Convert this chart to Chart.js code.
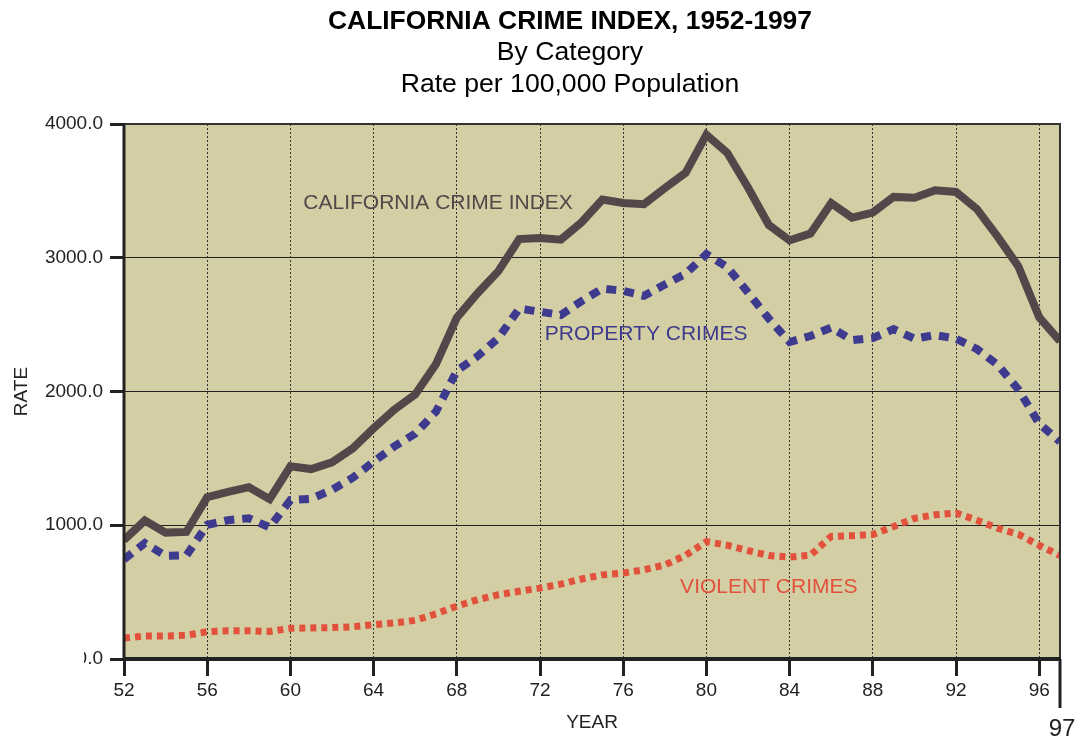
<!DOCTYPE html>
<html lang="en">
<head>
    <meta charset="utf-8">
    <title>California Crime Index, 1952-1997</title>
    <script src="https://cdn.jsdelivr.net/npm/chart.js@4.4.1/dist/chart.umd.min.js"></script>
    <style>
        html, body { margin: 0; padding: 0; background: #fff; }
        #wrap { width: 1080px; height: 738px; }
    </style>
</head>
<body>

<div id="wrap">
    <canvas id="chart" width="1080" height="738"></canvas>
</div>

<script>
// years 1952..1997 (two digit labels as on the original)
var years = [52, 53, 54, 55, 56, 57, 58, 59, 60, 61, 62, 63, 64, 65, 66, 67, 68, 69, 70, 71, 72, 73, 74,
             75, 76, 77, 78, 79, 80, 81, 82, 83, 84, 85, 86, 87, 88, 89, 90, 91, 92, 93, 94, 95, 96, 97];

var crimeIndex = [890, 1035, 945, 950, 1210, 1250, 1285, 1195, 1440, 1420, 1470, 1575, 1725, 1865, 1978, 2205,
                  2552, 2735, 2900, 3140, 3148, 3135, 3265, 3435, 3410, 3400, 3520, 3635, 3920, 3785, 3525, 3245,
                  3130, 3180, 3408, 3300, 3338, 3455, 3448, 3505, 3492, 3365, 3158, 2935, 2555, 2376];

var propertyCrimes = [745, 866, 772, 775, 1003, 1038, 1052, 985, 1188, 1198, 1265, 1355, 1475, 1590, 1685, 1850,
                      2155, 2264, 2400, 2620, 2596, 2572, 2676, 2770, 2752, 2715, 2800, 2880, 3028, 2930, 2740, 2545,
                      2370, 2415, 2478, 2384, 2400, 2466, 2395, 2422, 2395, 2318, 2200, 2015, 1760, 1625];

var violentCrimes = [157, 172, 172, 177, 204, 211, 211, 206, 229, 232, 235, 241, 256, 270, 289, 338,
                     395, 444, 480, 507, 530, 560, 598, 629, 643, 667, 703, 775, 877, 851, 811, 774,
                     762, 775, 917, 922, 931, 990, 1052, 1078, 1092, 1038, 978, 932, 850, 773];

var yearTicks = [52, 56, 60, 64, 68, 72, 76, 80, 84, 88, 92, 96, 97];
var rateTicks = [0, 1000, 2000, 3000, 4000];

var titleText = 'CALIFORNIA CRIME INDEX, 1952-1997';
var subtitleLines = ['By Category', 'Rate per 100,000 Population'];

var FONT = 'Liberation Sans, Arial, Helvetica, sans-serif';
var INK = '#222222';
var PLOT_BG = '#d3cea4';
var COL_INDEX = '#55464a';
var COL_PROPERTY = '#3e3b8e';
var COL_VIOLENT = '#e2513b';

// line labels sit inside the plot, placed in data units
var seriesLabels = [
    { text: 'CALIFORNIA CRIME INDEX', year: 67.1, rate: 3410, color: COL_INDEX },
    { text: 'PROPERTY CRIMES', year: 77.1, rate: 2425, color: COL_PROPERTY },
    { text: 'VIOLENT CRIMES', year: 83.0, rate: 540, color: COL_VIOLENT }
];

function toPoints(values) {
    var pts = [];
    for (var i = 0; i < years.length; i++) {
        pts.push({ x: years[i], y: values[i] });
    }
    return pts;
}

var decorPlugin = {
    id: 'decor',
    beforeDraw: function(chart) {
        var a = chart.chartArea;
        var ctx = chart.ctx;
        ctx.save();
        ctx.fillStyle = PLOT_BG;
        ctx.fillRect(a.left, a.top, a.right - a.left, a.bottom - a.top);
        ctx.restore();
    },
    afterDatasetsDraw: function(chart) {
        var a = chart.chartArea;
        var ctx = chart.ctx;
        var xs = chart.scales.x;
        var ys = chart.scales.y;
        ctx.save();

        // frame
        ctx.strokeStyle = '#333333';
        ctx.lineWidth = 2;
        ctx.beginPath();
        ctx.moveTo(a.left, a.top);
        ctx.lineTo(a.right, a.top);
        ctx.lineTo(a.right, a.bottom);
        ctx.stroke();

        ctx.strokeStyle = INK;
        ctx.lineWidth = 3;
        ctx.beginPath();
        ctx.moveTo(a.left, a.top - 1);
        ctx.lineTo(a.left, a.bottom);
        ctx.stroke();
        ctx.lineWidth = 4;
        ctx.beginPath();
        ctx.moveTo(a.left - 1, a.bottom);
        ctx.lineTo(a.right + 1, a.bottom);
        ctx.stroke();

        // long tick and label for the last year
        var x97 = xs.getPixelForValue(97);
        ctx.lineWidth = 3;
        ctx.beginPath();
        ctx.moveTo(x97, a.bottom);
        ctx.lineTo(x97, a.bottom + 49);
        ctx.stroke();
        ctx.fillStyle = INK;
        ctx.font = '24px ' + FONT;
        ctx.textAlign = 'center';
        ctx.textBaseline = 'middle';
        ctx.fillText('97', x97 + 2, a.bottom + 70);

        // series labels
        ctx.font = '21px ' + FONT;
        seriesLabels.forEach(function(l) {
            ctx.fillStyle = l.color;
            ctx.fillText(l.text, xs.getPixelForValue(l.year), ys.getPixelForValue(l.rate));
        });

        // titles
        ctx.fillStyle = '#000000';
        ctx.textBaseline = 'alphabetic';
        ctx.font = 'bold 26.4px ' + FONT;
        ctx.fillText(titleText, 570, 29);
        ctx.font = '26.6px ' + FONT;
        ctx.fillText(subtitleLines[0], 570, 60);
        ctx.fillText(subtitleLines[1], 570, 92);
        ctx.restore();
    },
    afterDraw: function(chart) {
        // the zero label is cut off on the original
        var ctx = chart.ctx;
        ctx.save();
        ctx.fillStyle = '#ffffff';
        ctx.fillRect(40, chart.chartArea.bottom - 14, 44, 28);
        ctx.restore();
    }
};

var ctx = document.getElementById('chart').getContext('2d');
var myChart = new Chart(ctx, {
    type: 'line',
    data: {
        datasets: [
            {
                label: 'VIOLENT CRIMES',
                data: toPoints(violentCrimes),
                borderColor: COL_VIOLENT,
                borderWidth: 7,
                borderDash: [6, 5],
                borderCapStyle: 'butt',
                pointRadius: 0,
                tension: 0,
                fill: false
            },
            {
                label: 'PROPERTY CRIMES',
                data: toPoints(propertyCrimes),
                borderColor: COL_PROPERTY,
                borderWidth: 8,
                borderDash: [10, 8],
                borderCapStyle: 'butt',
                pointRadius: 0,
                tension: 0,
                fill: false
            },
            {
                label: 'CALIFORNIA CRIME INDEX',
                data: toPoints(crimeIndex),
                borderColor: COL_INDEX,
                borderWidth: 8,
                borderJoinStyle: 'miter',
                pointRadius: 0,
                tension: 0,
                fill: false
            }
        ]
    },
    options: {
        responsive: false,
        animation: false,
        events: [],
        layout: { padding: { top: 124, right: 20, left: 0, bottom: 0 } },
        plugins: {
            legend: { display: false },
            tooltip: { enabled: false },
            title: { display: false }
        },
        scales: {
            x: {
                type: 'linear',
                min: 52,
                max: 97,
                afterBuildTicks: function(scale) {
                    scale.ticks = yearTicks.map(function(v) { return { value: v }; });
                },
                afterFit: function(scale) { scale.height = 79; },
                grid: {
                    color: function(c) {
                        if (!c.tick) return 'transparent';
                        return (c.tick.value === 52 || c.tick.value === 97) ? 'transparent' : '#333333';
                    },
                    lineWidth: 1,
                    drawTicks: true,
                    tickLength: 17,
                    tickWidth: 3,
                    tickColor: function(c) {
                        return (c.tick && c.tick.value === 97) ? 'transparent' : INK;
                    }
                },
                border: { display: false, dash: [2, 2] },
                ticks: {
                    autoSkip: false,
                    maxRotation: 0,
                    padding: 3,
                    color: INK,
                    font: { family: FONT, size: 19 },
                    callback: function(v) { return v === 97 ? '' : String(v); }
                },
                title: {
                    display: true,
                    text: 'YEAR',
                    color: INK,
                    font: { family: FONT, size: 19 },
                    padding: { top: 8, bottom: 4 }
                }
            },
            y: {
                min: 0,
                max: 4000,
                afterBuildTicks: function(scale) {
                    scale.ticks = rateTicks.map(function(v) { return { value: v }; });
                },
                afterFit: function(scale) { scale.width = 124; },
                grid: {
                    color: function(c) {
                        return (c.tick && (c.tick.value === 0 || c.tick.value === 4000)) ? 'transparent' : INK;
                    },
                    lineWidth: 1,
                    drawTicks: true,
                    tickLength: 14,
                    tickWidth: 3,
                    tickColor: INK
                },
                border: { display: false },
                ticks: {
                    padding: 7,
                    color: INK,
                    font: { family: FONT, size: 19 },
                    callback: function(v) { return Number(v).toFixed(1); }
                },
                title: {
                    display: true,
                    text: 'RATE',
                    color: INK,
                    font: { family: FONT, size: 19 },
                    padding: { top: 10, bottom: 0 }
                }
            }
        }
    },
    plugins: [decorPlugin]
});
</script>

</body>
</html>
